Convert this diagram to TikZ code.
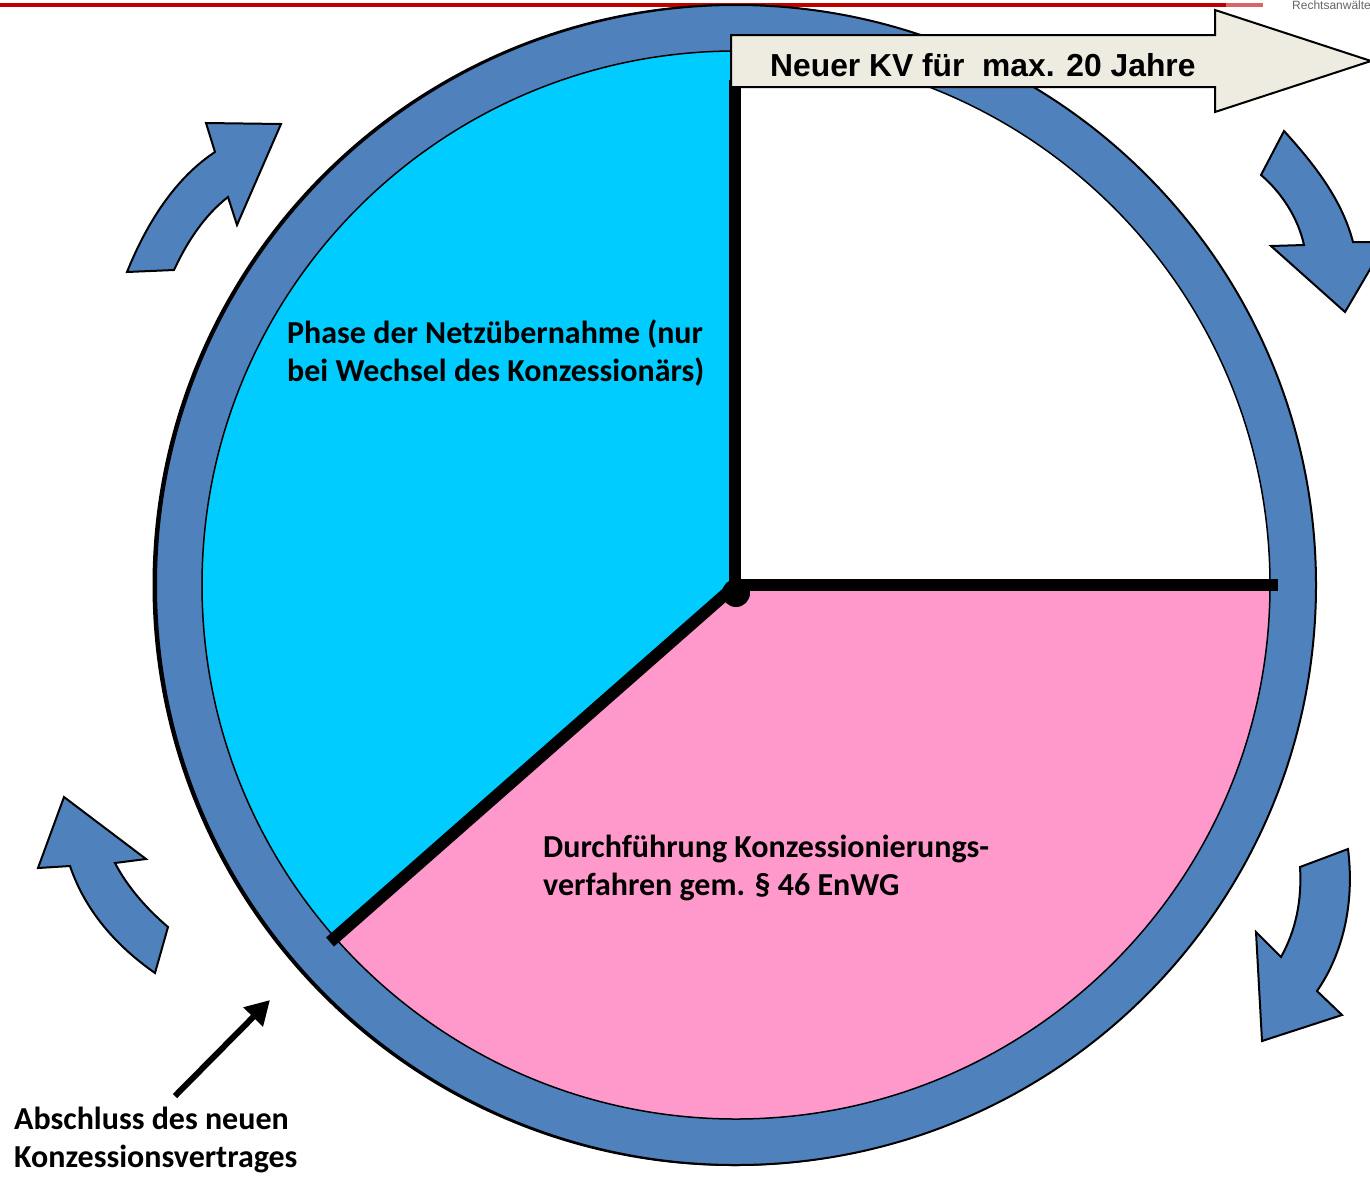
\documentclass[tikz,border=0pt]{standalone}
\usepackage{fontspec}
\setmainfont{Carlito}
\newfontfamily\arialfont{Liberation Sans}
\usetikzlibrary{arrows.meta}
\definecolor{ringblue}{HTML}{4F81BD}
\definecolor{phasecyan}{HTML}{00CCFF}
\definecolor{verfpink}{HTML}{FF99CC}
\definecolor{kvbeige}{HTML}{EEECE1}
\definecolor{rulered}{HTML}{C00000}
\begin{document}
\begin{tikzpicture}[x=1pt,y=-1pt,
  lbl/.style={font=\fontsize{32}{38}\selectfont\bfseries, inner sep=0pt, anchor=base west},
  blockarrow/.style={fill=ringblue, draw=black, line width=2pt, line join=miter},
  divider/.style={line width=12pt, black}]
\useasboundingbox (0,0) rectangle (1370,1176);
\clip (0,0) rectangle (1370,1176);
\fill[white] (0,0) rectangle (1370,1176);

% top rule and logo text
\fill[rulered] (0,2.5) rectangle (1226,7);
\fill[rulered!60] (1226,2.5) rectangle (1263,7);
\node[font=\arialfont\fontsize{12}{12}\selectfont, text=black!60, inner sep=0pt, anchor=base west] (logo) at (1292,9) {Rechtsanwälte};

% circle
\coordinate (C) at (736,585);
\fill[black] (733.5,585) circle (581);
\filldraw[fill=ringblue, draw=black, line width=2pt] (C) circle (580);
\fill[phasecyan] (C) -- +(139:534) arc[start angle=139, end angle=270, radius=534] -- cycle;
\fill[verfpink] (C) -- +(0:534) arc[start angle=0, end angle=139, radius=534] -- cycle;
\fill[white] (C) -- +(270:534) arc[start angle=270, end angle=360, radius=534] -- cycle;
\draw[line width=1.5pt] (C) circle (534);

% dividers
\coordinate (vtop) at (735,80);
\coordinate (hend) at (1278,585);
\coordinate (dend) at (330,942);
\draw[divider] (735,590) -- (vtop);
\draw[divider] (735,585) -- (hend);
\draw[divider] (C) -- (dend);
\fill[black] (736,593) circle (14);

% big arrow
\filldraw[fill=kvbeige, draw=black, line width=2pt, line join=miter]
  (731,35) -- (1215,35) -- (1215,10) -- (1371,61) -- (1215,112) -- (1215,87) -- (731,87) -- cycle;
\node[font=\arialfont\fontsize{31.8}{36}\selectfont\bfseries, inner sep=0pt, anchor=base west] (kv) at (770,76) {Neuer KV für\ \ max. 20 Jahre};

% labels
\node[lbl] (ph1) at (287,343) {Phase der Netzübernahme (nur};
\node[lbl] (ph2) at (287,381) {bei Wechsel des Konzessionärs)};
\node[lbl] (dv1) at (543,857) {Durchführung Konzessionierungs-};
\node[lbl] (dv2) at (543,895) {verfahren gem. § 46 EnWG};
\node[lbl] (ab1) at (14,1129) {Abschluss des neuen};
\node[lbl] (ab2) at (14,1167) {Konzessionsvertrages};

% pointer arrow
\coordinate (p1) at (175,1096);
\coordinate (p2) at (270,1000);
\draw[line width=6pt, -{Triangle[length=24pt,width=26pt]}] (p1) -- (p2);

% curved block arrows
\filldraw[blockarrow] (127,272) .. controls (150,215) and (180,175) .. (215,152) -- (206,123) -- (281,124) -- (237,225) -- (228,197) .. controls (205,215) and (188,240) .. (174,270) -- cycle;
\filldraw[blockarrow] (1284,131) .. controls (1315,165) and (1342,200) .. (1353,242) -- (1386,242) -- (1345,312) -- (1271,246) -- (1304,245) .. controls (1298,218) and (1282,193) .. (1261,175) -- cycle;
\filldraw[blockarrow] (155,973) .. controls (115,945) and (85,910) .. (70,866) -- (38,868) -- (64,797) -- (146,859) -- (115,863) .. controls (128,888) and (148,910) .. (168,927) -- cycle;
\filldraw[blockarrow] (1348,849) .. controls (1355,905) and (1342,955) .. (1317,991) -- (1342,1015) -- (1262,1041) -- (1256,932) -- (1281,957) .. controls (1296,930) and (1302,900) .. (1300,867) -- cycle;
\end{tikzpicture}
\end{document}
